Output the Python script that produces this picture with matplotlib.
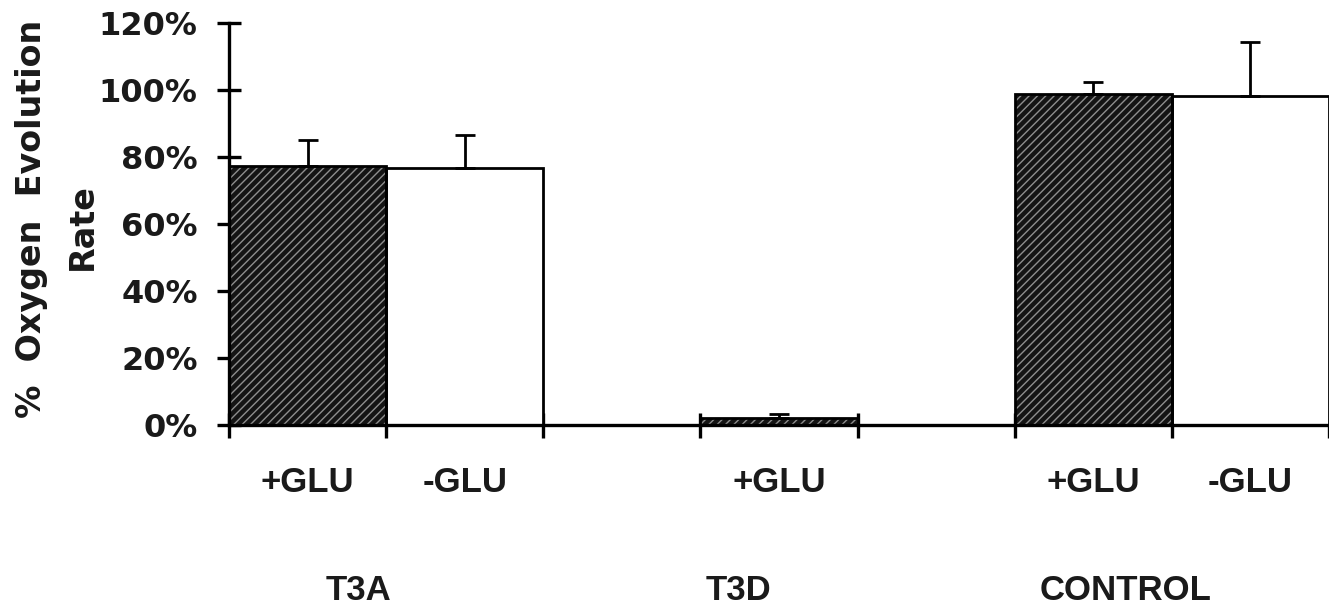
import matplotlib
matplotlib.use("Agg")
import matplotlib.pyplot as plt
import numpy as np

# ---- data ----
groups = ["T3A", "T3D", "CONTROL"]
conditions = ["+GLU", "-GLU", "+GLU", "+GLU", "-GLU"]
bar_group = ["T3A", "T3A", "T3D", "CONTROL", "CONTROL"]
values = [77.4, 76.6, 2.0, 98.8, 98.2]          # % oxygen evolution rate
err_upper = [7.6, 10.0, 1.2, 3.5, 16.0]
hatched = [True, False, True, True, False]
y_ticks = [0, 20, 40, 60, 80, 100, 120]
y_ticklabels = ["0%", "20%", "40%", "60%", "80%", "100%", "120%"]

# ---- layout ----
slots = [0, 1, 3, 5, 6]                 # left edge slot for each bar
group_label_x = [0.825, 3.243, 5.705]   # where group names sit (slot units)

plt.rcParams['hatch.linewidth'] = 1.0

fig = plt.figure(figsize=(13.29, 6.14), dpi=100)
ax = fig.add_axes([229/1329, 189/614, 1.0 - 229/1329, (425-22.7)/614])

centers = np.array(slots) + 0.5
for c, v, h in zip(centers, values, hatched):
    if h:
        ax.bar(c, v, width=1.0, color="#141414", edgecolor="#8e8e8e",
               hatch="////", linewidth=0, zorder=2)
        ax.bar(c, v, width=1.0, fill=False, edgecolor="black", linewidth=2, zorder=3)
    else:
        ax.bar(c, v, width=1.0, color="white", edgecolor="black", linewidth=2, zorder=2)

ax.errorbar(centers, values, yerr=[np.zeros(len(values)), err_upper], fmt="none",
            ecolor="black", elinewidth=2, capsize=7, capthick=2, zorder=4)

ax.set_xlim(0, 6.857)
ax.set_ylim(0, 120)

for s in ["top", "right"]:
    ax.spines[s].set_visible(False)
ax.spines["left"].set_linewidth(2.4)
ax.spines["bottom"].set_linewidth(2.4)
ax.spines["left"].set_zorder(5)
ax.spines["bottom"].set_zorder(5)

ax.set_yticks(y_ticks)
ax.set_yticklabels(y_ticklabels, fontfamily="DejaVu Sans", fontweight="bold",
                   fontsize=23, color="#1a1a1a")
ax.tick_params(axis="y", direction="inout", length=17, width=2.4, pad=14)

# major x ticks at slot boundaries, no labels
ax.set_xticks(np.arange(0, 8))
ax.set_xticklabels([])
ax.tick_params(axis="x", which="major", direction="inout", length=18, width=2.4)
# minor ticks at bar centres carry the condition labels
ax.set_xticks(centers, minor=True)
ax.set_xticklabels(conditions, minor=True, fontfamily="Liberation Sans",
                   fontweight="bold", fontsize=25, color="#1a1a1a")
ax.tick_params(axis="x", which="minor", length=0, pad=29.5)

for g, gx in zip(groups, group_label_x):
    ax.text(gx, -49.3, g, ha="center", va="center", fontfamily="Liberation Sans",
            fontweight="bold", fontsize=25, color="#1a1a1a", clip_on=False)

fig.text(32/1329, 1 - 219/614, "%  Oxygen  Evolution", rotation=90, ha="center",
         va="center", fontfamily="DejaVu Sans", fontweight="bold", fontsize=24,
         color="#1a1a1a")
fig.text(82/1329, 1 - 227/614, "Rate", rotation=90, ha="center",
         va="center", fontfamily="DejaVu Sans", fontweight="bold", fontsize=24,
         color="#1a1a1a")

fig.savefig("out.png", dpi=100, facecolor="white")
